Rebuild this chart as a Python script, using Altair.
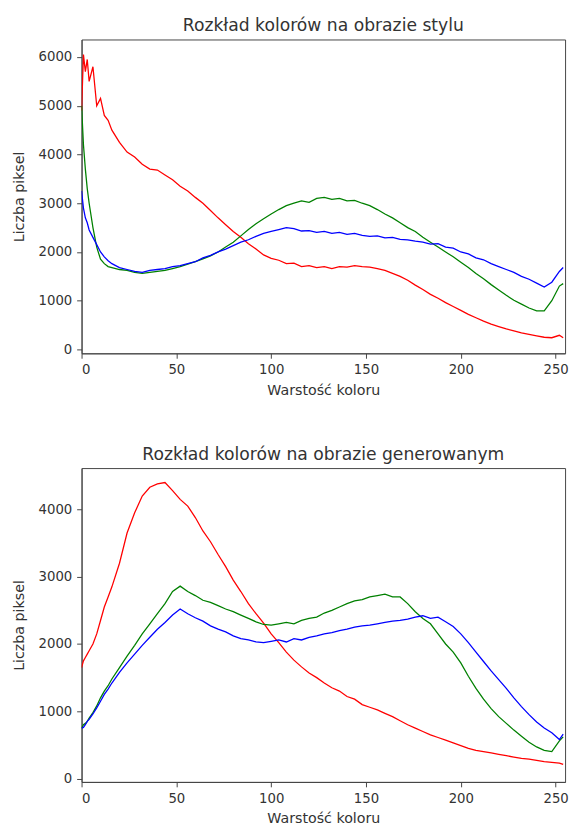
import altair as alt
import pandas as pd

# sample positions (colour value)
x_vals = [0, 1, 2, 3, 4, 6, 8, 10, 12, 14, 16] + list(range(20, 253, 4)) + [254]

# --- style image histogram ---
style_r = [4900, 6050, 5700, 5950, 5500, 5800, 5000, 5150, 4800, 4700, 4500,
           4250, 4050, 3950, 3800, 3700, 3680, 3580, 3480, 3350, 3250,
           3120, 3000, 2850, 2700, 2560, 2420, 2300, 2170, 2060, 1940,
           1870, 1830, 1760, 1770, 1700, 1720, 1680, 1700, 1660, 1700,
           1690, 1720, 1700, 1690, 1660, 1620, 1560, 1500, 1420, 1320,
           1230, 1130, 1050, 960, 880, 800, 720, 650, 580, 520,
           470, 420, 380, 340, 310, 280, 250, 240, 290,
           240]
style_g = [5000, 4200, 3700, 3300, 3000, 2500, 2100, 1850, 1760, 1700, 1680,
           1640, 1620, 1580, 1560, 1580, 1600, 1620, 1660, 1700, 1750,
           1800, 1860, 1920, 2000, 2100, 2200, 2330, 2460, 2580, 2680,
           2780, 2870, 2950, 3000, 3050, 3020, 3100, 3120, 3080, 3100,
           3050, 3060, 3000, 2950, 2870, 2780, 2700, 2600, 2500, 2420,
           2300, 2200, 2100, 2000, 1900, 1790, 1680, 1560, 1450, 1330,
           1220, 1110, 1010, 930, 850, 790, 790, 1000, 1300,
           1350]
style_b = [3250, 2900, 2700, 2600, 2450, 2300, 2150, 2000, 1900, 1820, 1760,
           1680, 1640, 1600, 1580, 1620, 1640, 1660, 1700, 1720, 1760,
           1800, 1880, 1930, 2000, 2060, 2130, 2200, 2250, 2320, 2380,
           2420, 2460, 2500, 2480, 2430, 2440, 2400, 2420, 2380, 2400,
           2360, 2380, 2340, 2320, 2330, 2290, 2300, 2260, 2250, 2220,
           2200, 2160, 2170, 2100, 2080, 2000, 1960, 1880, 1840, 1760,
           1700, 1640, 1580, 1500, 1440, 1360, 1280, 1380, 1600,
           1680]

# --- generated image histogram ---
gen_r = [1650, 1750, 1800, 1850, 1900, 2000, 2150, 2350, 2550, 2700, 2850,
         3200, 3650, 3950, 4200, 4330, 4380, 4400, 4280, 4150, 4050,
         3880, 3680, 3520, 3330, 3150, 2950, 2780, 2600, 2450, 2310,
         2150, 2020, 1880, 1760, 1660, 1570, 1500, 1420, 1350, 1300,
         1220, 1180, 1100, 1060, 1020, 970, 920, 860, 800, 750,
         700, 650, 610, 570, 530, 490, 450, 420, 400, 380,
         360, 340, 320, 300, 290, 270, 250, 240, 230,
         210]
gen_g = [750, 800, 820, 850, 900, 980, 1080, 1200, 1300, 1380, 1480,
         1650, 1820, 1980, 2150, 2300, 2450, 2600, 2780, 2860, 2780,
         2720, 2650, 2620, 2570, 2520, 2480, 2430, 2380, 2330, 2290,
         2280, 2300, 2320, 2300, 2350, 2380, 2400, 2460, 2500, 2550,
         2600, 2640, 2660, 2700, 2720, 2740, 2700, 2700, 2600, 2480,
         2380, 2300, 2150, 2000, 1880, 1720, 1520, 1340, 1180, 1040,
         920, 820, 720, 630, 540, 470, 420, 400, 560,
         620]
gen_b = [750, 760, 800, 850, 880, 960, 1050, 1150, 1250, 1330, 1420,
         1580, 1720, 1850, 1980, 2100, 2220, 2320, 2430, 2520, 2450,
         2390, 2340, 2270, 2220, 2180, 2120, 2080, 2060, 2030, 2020,
         2040, 2060, 2030, 2080, 2060, 2100, 2120, 2150, 2170, 2200,
         2220, 2250, 2270, 2280, 2300, 2320, 2340, 2350, 2370, 2400,
         2420, 2380, 2400, 2330, 2260, 2150, 2020, 1880, 1740, 1600,
         1470, 1340, 1200, 1070, 950, 840, 750, 680, 580,
         660]

channels = ["r", "g", "b"]
colors = ["#ff0000", "#008000", "#0000ff"]
x_ticks = [0, 50, 100, 150, 200, 250]
style_y_ticks = [0, 1000, 2000, 3000, 4000, 5000, 6000]
gen_y_ticks = [0, 1000, 2000, 3000, 4000]


def to_df(series):
    rows = []
    for ch, vals in zip(channels, series):
        for xv, yv in zip(x_vals, vals):
            rows.append({"x": xv, "v": yv, "c": ch})
    return pd.DataFrame(rows)


def panel(df, title, ydom, yticks):
    return alt.Chart(df).mark_line(strokeWidth=1.3, clip=True).encode(
        x=alt.X("x:Q", scale=alt.Scale(domain=[0, 255], nice=False, zero=False),
                axis=alt.Axis(values=x_ticks, title="Warstość koloru", format="d",
                              titlePadding=7)),
        y=alt.Y("v:Q", scale=alt.Scale(domain=ydom, nice=False, zero=False),
                axis=alt.Axis(values=yticks, title="Liczba piksel", format="d",
                              titlePadding=12)),
        color=alt.Color("c:N", scale=alt.Scale(domain=channels, range=colors), legend=None),
    ).properties(width=493, height=320, title=title)


top = panel(to_df([style_r, style_g, style_b]), "Rozkład kolorów na obrazie stylu",
            [-80, 6360], style_y_ticks)
bottom = panel(to_df([gen_r, gen_g, gen_b]), "Rozkład kolorów na obrazie generowanym",
               [-50, 4615], gen_y_ticks)

chart = alt.vconcat(top, bottom, spacing=49).properties(
    padding={"left": 3, "top": 1, "right": 0, "bottom": 0}
).configure_view(stroke="#444", strokeWidth=1).configure_axis(
    grid=False, labelFont="DejaVu Sans", titleFont="DejaVu Sans",
    labelFontSize=13.5, titleFontSize=14.5, titleFontWeight="normal",
    labelColor="#333", titleColor="#333", tickColor="#444", domainColor="#444",
    tickSize=5, labelPadding=5
).configure_title(
    font="DejaVu Sans", fontSize=17.5, fontWeight="normal", color="#333", anchor="middle", offset=5
)

chart.save("out.html", embed_options={"renderer": "svg", "actions": False})
